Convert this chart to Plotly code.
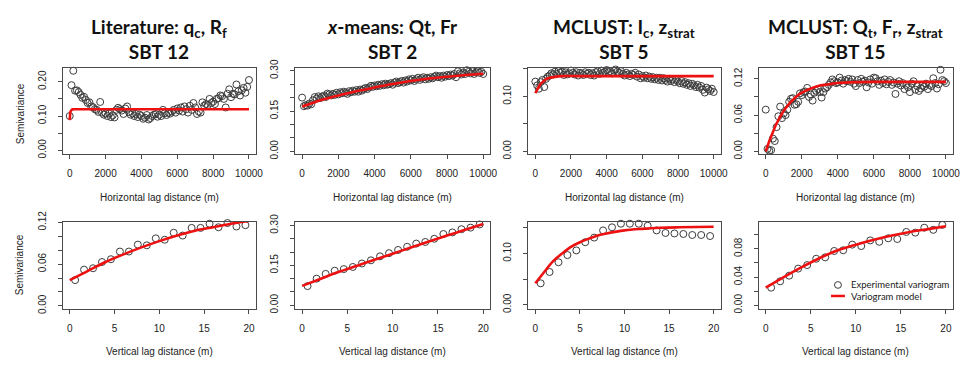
import plotly.graph_objects as go

W, H = 978, 366

# ---------------- data ----------------
H_LAG = [0, 100, 200, 300, 400, 500, 600, 700, 800, 900,
         1000, 1100, 1200, 1300, 1400, 1500, 1600, 1700, 1800, 1900,
         2000, 2100, 2200, 2300, 2400, 2500, 2600, 2700, 2800, 2900,
         3000, 3100, 3200, 3300, 3400, 3500, 3600, 3700, 3800, 3900,
         4000, 4100, 4200, 4300, 4400, 4500, 4600, 4700, 4800, 4900,
         5000, 5100, 5200, 5300, 5400, 5500, 5600, 5700, 5800, 5900,
         6000, 6100, 6200, 6300, 6400, 6500, 6600, 6700, 6800, 6900,
         7000, 7100, 7200, 7300, 7400, 7500, 7600, 7700, 7800, 7900,
         8000, 8100, 8200, 8300, 8400, 8500, 8600, 8700, 8800, 8900,
         9000, 9100, 9200, 9300, 9400, 9500, 9600, 9700, 9800, 9900, 10000]

V_LAG = [0.6, 1.6, 2.6, 3.6, 4.6, 5.6, 6.6, 7.6, 8.6, 9.6,
         10.6, 11.6, 12.6, 13.6, 14.6, 15.6, 16.6, 17.6, 18.6, 19.6]

# Literature: qc, Rf  (SBT 12)
LIT_H = [0.100, 0.190, 0.232, 0.174, 0.175, 0.170, 0.162, 0.153, 0.156, 0.147,
         0.138, 0.140, 0.128, 0.126, 0.120, 0.118, 0.112, 0.141, 0.110, 0.104,
         0.108, 0.100, 0.107, 0.097, 0.102, 0.096, 0.118, 0.124, 0.120, 0.116,
         0.106, 0.122, 0.128, 0.112, 0.104, 0.108, 0.100, 0.106, 0.097, 0.104,
         0.100, 0.092, 0.095, 0.103, 0.090, 0.094, 0.100, 0.104, 0.106, 0.098,
         0.104, 0.100, 0.118, 0.108, 0.103, 0.110, 0.107, 0.113, 0.118, 0.110,
         0.122, 0.116, 0.125, 0.113, 0.128, 0.120, 0.110, 0.130, 0.118, 0.138,
         0.125, 0.106, 0.113, 0.110, 0.140, 0.130, 0.135, 0.132, 0.150, 0.138,
         0.142, 0.135, 0.150, 0.152, 0.160, 0.158, 0.150, 0.125, 0.165, 0.178,
         0.155, 0.165, 0.163, 0.192, 0.172, 0.160, 0.175, 0.182, 0.168, 0.185, 0.205]
LIT_H_MODEL_X = [0, 1, 30, 60, 100, 150, 250, 500, 10000]
LIT_H_MODEL_Y = [0.088, 0.100, 0.110, 0.115, 0.118, 0.1195, 0.120, 0.120, 0.120]
LIT_V = [0.037, 0.052, 0.054, 0.063, 0.067, 0.078, 0.078, 0.088, 0.087, 0.097,
         0.095, 0.105, 0.101, 0.112, 0.112, 0.118, 0.113, 0.119, 0.114, 0.116]
LIT_V_MODEL_X = [0, 2, 4, 6, 8, 10, 12, 14, 16, 18, 20]
LIT_V_MODEL_Y = [0.037, 0.050, 0.063, 0.074, 0.084, 0.093, 0.101, 0.108, 0.113, 0.118, 0.122]

# x-means: Qt, Fr  (SBT 2)
XM_H = [0.200, 0.168, 0.172, 0.170, 0.178, 0.175, 0.190, 0.202, 0.196, 0.205,
        0.198, 0.204, 0.207, 0.202, 0.215, 0.212, 0.208, 0.214, 0.210, 0.218,
        0.212, 0.220, 0.216, 0.222, 0.218, 0.214, 0.224, 0.220, 0.226, 0.222,
        0.228, 0.222, 0.230, 0.226, 0.232, 0.236, 0.232, 0.238, 0.244, 0.240,
        0.245, 0.242, 0.248, 0.244, 0.250, 0.246, 0.252, 0.248, 0.250, 0.254,
        0.248, 0.256, 0.260, 0.254, 0.258, 0.262, 0.256, 0.264, 0.260, 0.268,
        0.264, 0.270, 0.262, 0.268, 0.274, 0.266, 0.272, 0.276, 0.268, 0.274,
        0.270, 0.276, 0.272, 0.278, 0.282, 0.276, 0.280, 0.274, 0.282, 0.278,
        0.284, 0.280, 0.286, 0.282, 0.288, 0.276, 0.298, 0.290, 0.286, 0.294,
        0.288, 0.302, 0.296, 0.290, 0.298, 0.288, 0.294, 0.298, 0.292, 0.296, 0.288]
XM_H_MODEL_X = [0, 500, 1000, 2000, 3000, 4000, 5000, 6000, 7000, 8000, 9000, 10000]
XM_H_MODEL_Y = [0.167, 0.178, 0.190, 0.208, 0.224, 0.238, 0.251, 0.262, 0.271, 0.278, 0.284, 0.289]
XM_V = [0.072, 0.100, 0.118, 0.130, 0.136, 0.144, 0.157, 0.169, 0.184, 0.196,
        0.208, 0.220, 0.232, 0.238, 0.250, 0.268, 0.274, 0.286, 0.292, 0.304]
XM_V_MODEL_X = [0, 2, 4, 6, 8, 10, 12, 14, 16, 18, 20]
XM_V_MODEL_Y = [0.073, 0.099, 0.125, 0.148, 0.171, 0.194, 0.217, 0.240, 0.262, 0.284, 0.306]

# MCLUST: Ic, zstrat  (SBT 5)
MC5_H = [0.127, 0.120, 0.114, 0.126, 0.130, 0.117, 0.132, 0.136, 0.138, 0.142,
         0.140, 0.145, 0.141, 0.146, 0.143, 0.145, 0.139, 0.144, 0.140, 0.142,
         0.147, 0.143, 0.140, 0.144, 0.138, 0.143, 0.141, 0.139, 0.144, 0.141,
         0.143, 0.139, 0.142, 0.138, 0.144, 0.146, 0.141, 0.147, 0.143, 0.145,
         0.148, 0.144, 0.146, 0.142, 0.147, 0.149, 0.145, 0.143, 0.146, 0.141,
         0.138, 0.143, 0.140, 0.137, 0.141, 0.139, 0.143, 0.136, 0.140, 0.133,
         0.137, 0.134, 0.138, 0.133, 0.136, 0.132, 0.135, 0.131, 0.134, 0.130,
         0.134, 0.129, 0.133, 0.130, 0.127, 0.132, 0.128, 0.131, 0.126, 0.130,
         0.127, 0.124, 0.128, 0.123, 0.126, 0.121, 0.124, 0.119, 0.123, 0.120,
         0.117, 0.121, 0.116, 0.119, 0.112, 0.107, 0.116, 0.113, 0.110, 0.114, 0.108]
MC5_H_MODEL_X = [0, 100, 200, 300, 400, 500, 700, 1000, 1500, 2500, 10000]
MC5_H_MODEL_Y = [0.106, 0.112, 0.118, 0.123, 0.126, 0.129, 0.133, 0.135, 0.137, 0.137, 0.137]
MC5_V = [0.042, 0.064, 0.083, 0.097, 0.106, 0.122, 0.131, 0.145, 0.151, 0.158,
         0.158, 0.158, 0.154, 0.145, 0.140, 0.139, 0.138, 0.136, 0.136, 0.134]
MC5_V_MODEL_X = [0, 1, 2, 3, 4, 5, 6, 7, 8, 10, 12, 14, 16, 20]
MC5_V_MODEL_Y = [0.042, 0.064, 0.085, 0.100, 0.113, 0.122, 0.129, 0.135, 0.139, 0.145, 0.148, 0.150, 0.151, 0.152]

# MCLUST: Qt, Fr, zstrat  (SBT 15)
MC15_H = [0.069, 0.004, 0.001, 0.002, 0.021, 0.017, 0.040, 0.058, 0.074, 0.055,
          0.063, 0.060, 0.069, 0.082, 0.087, 0.088, 0.077, 0.078, 0.082, 0.096,
          0.093, 0.098, 0.099, 0.105, 0.090, 0.094, 0.084, 0.097, 0.100, 0.103,
          0.098, 0.089, 0.098, 0.104, 0.106, 0.110, 0.114, 0.119, 0.116, 0.113,
          0.114, 0.122, 0.117, 0.112, 0.118, 0.116, 0.120, 0.115, 0.119, 0.112,
          0.108, 0.118, 0.113, 0.120, 0.115, 0.117, 0.106, 0.114, 0.119, 0.112,
          0.122, 0.121, 0.116, 0.110, 0.117, 0.113, 0.119, 0.111, 0.115, 0.118,
          0.110, 0.114, 0.095, 0.112, 0.116, 0.109, 0.113, 0.103, 0.110, 0.106,
          0.098, 0.112, 0.116, 0.102, 0.108, 0.100, 0.104, 0.109, 0.107, 0.112,
          0.103, 0.110, 0.108, 0.121, 0.113, 0.104, 0.111, 0.135, 0.118, 0.116, 0.113]
MC15_H_MODEL_X = [0, 200, 400, 600, 800, 1000, 1250, 1500, 1750, 2000, 2500, 3000, 3500, 4000, 5000, 6000, 10000]
MC15_H_MODEL_Y = [0.000, 0.017, 0.032, 0.046, 0.057, 0.067, 0.077, 0.085, 0.092, 0.097, 0.104, 0.109, 0.111, 0.113, 0.1145, 0.115, 0.115]
MC15_V = [0.025, 0.034, 0.042, 0.052, 0.057, 0.066, 0.068, 0.077, 0.078, 0.086,
          0.084, 0.092, 0.090, 0.095, 0.094, 0.104, 0.103, 0.110, 0.107, 0.114]
MC15_V_MODEL_X = [0, 2, 4, 6, 8, 10, 12, 14, 16, 18, 20]
MC15_V_MODEL_Y = [0.025, 0.040, 0.054, 0.067, 0.078, 0.086, 0.093, 0.099, 0.104, 0.108, 0.112]

TITLES = ["<b>Literature: q<sub>c</sub>, R<sub>f</sub><br>SBT 12</b>",
          "<b><i>x</i>-means: Qt, Fr<br>SBT 2</b>",
          "<b>MCLUST: I<sub>c</sub>, z<sub>strat</sub><br>SBT 5</b>",
          "<b>MCLUST: Q<sub>t</sub>, F<sub>r</sub>, z<sub>strat</sub><br>SBT 15</b>"]

H_TICKS = [0, 2000, 4000, 6000, 8000, 10000]
H_TICKTEXT = ["0", "2000", "4000", "6000", "8000", "10000"]
V_TICKS = [0, 5, 10, 15, 20]
V_TICKTEXT = ["0", "5", "10", "15", "20"]

# (labelled ticks, labels, unlabelled ticks)
Y_TICKS_TOP = [
    ([0, 0.10, 0.20], ["0.00", "0.10", "0.20"], [0.05, 0.15]),
    ([0, 0.15, 0.30], ["0.00", "0.15", "0.30"], [0.05, 0.10, 0.20, 0.25]),
    ([0, 0.10], ["0.00", "0.10"], [0.05, 0.15]),
    ([0, 0.06, 0.12], ["0.00", "0.06", "0.12"], [0.03, 0.09]),
]
Y_TICKS_BOT = [
    ([0, 0.06, 0.12], ["0.00", "0.06", "0.12"], [0.02, 0.04, 0.08, 0.10]),
    ([0, 0.15, 0.30], ["0.00", "0.15", "0.30"], [0.05, 0.10, 0.20, 0.25]),
    ([0, 0.10], ["0.00", "0.10"], [0.05, 0.15]),
    ([0, 0.04, 0.08], ["0.00", "0.04", "0.08"], [0.02, 0.06, 0.10]),
]

# ---------------- layout geometry (pixels) ----------------
COL_BOX = [(63, 258), (297, 494), (532, 726), (764, 960)]
TOP_BOX = (59.5, 149.5)
BOT_BOX = (220.5, 311.5)
Y_RANGE_TOP = [[-0.0106, 0.2404], [-0.010, 0.3107], [-0.0048, 0.1519], [-0.0044, 0.1381]]
Y_RANGE_BOT = [[-0.0044, 0.1207], [-0.0137, 0.3137], [-0.0078, 0.1616], [-0.0051, 0.1183]]
H_RANGE = [-400, 10400]
V_RANGE = [-0.8, 20.8]

top_series = [(LIT_H, LIT_H_MODEL_X, LIT_H_MODEL_Y), (XM_H, XM_H_MODEL_X, XM_H_MODEL_Y),
              (MC5_H, MC5_H_MODEL_X, MC5_H_MODEL_Y), (MC15_H, MC15_H_MODEL_X, MC15_H_MODEL_Y)]
bot_series = [(LIT_V, LIT_V_MODEL_X, LIT_V_MODEL_Y), (XM_V, XM_V_MODEL_X, XM_V_MODEL_Y),
              (MC5_V, MC5_V_MODEL_X, MC5_V_MODEL_Y), (MC15_V, MC15_V_MODEL_X, MC15_V_MODEL_Y)]

PT_COLOR = "#3c3c3c"
AX_COLOR = "#4a4a4a"
RED = "#ee1111"
SANS = "Liberation Sans, Arial, sans-serif"
TICK_FONT = dict(family=SANS, size=10, color="#222")


def px_x(p):
    return p / W


def px_y(p):
    return 1 - p / H


fig = go.Figure()
layout = dict(width=W, height=H, margin=dict(l=0, r=0, t=0, b=0),
              paper_bgcolor="white", plot_bgcolor="white", showlegend=False,
              annotations=[], shapes=[])

axis_common = dict(showline=True, linecolor=AX_COLOR, linewidth=1, mirror=True,
                   ticks="outside", ticklen=4, tickwidth=1, tickcolor=AX_COLOR,
                   showgrid=False, zeroline=False, tickfont=TICK_FONT)

idx = 0
for row in range(2):
    series = top_series if row == 0 else bot_series
    box = TOP_BOX if row == 0 else BOT_BOX
    xs = H_LAG if row == 0 else V_LAG
    for col in range(4):
        idx += 1
        sfx = "" if idx == 1 else str(idx)
        yvals, mx, my = series[col]
        fig.add_trace(go.Scatter(x=xs, y=yvals, mode="markers", xaxis="x" + sfx, yaxis="y" + sfx,
                                 marker=dict(symbol="circle-open", size=7, color=PT_COLOR,
                                             line=dict(width=1, color=PT_COLOR)),
                                 cliponaxis=False))
        shape = "linear" if (row == 0 and col == 0) else "spline"
        fig.add_trace(go.Scatter(x=mx, y=my, mode="lines", xaxis="x" + sfx, yaxis="y" + sfx,
                                 line=dict(color=RED, width=2.6, shape=shape)))
        l, r = COL_BOX[col]
        t, b = box
        if row == 0:
            yt, ytt, ymin = Y_TICKS_TOP[col]
            yr = Y_RANGE_TOP[col]
            xt, xtt, xr = H_TICKS, H_TICKTEXT, H_RANGE
        else:
            yt, ytt, ymin = Y_TICKS_BOT[col]
            yr = Y_RANGE_BOT[col]
            xt, xtt, xr = V_TICKS, V_TICKTEXT, V_RANGE
        layout["xaxis" + sfx] = dict(axis_common, domain=[px_x(l), px_x(r)], range=xr,
                                     tickvals=xt, ticktext=xtt, anchor="y" + sfx,
                                     ticklabelstandoff=6)
        layout["yaxis" + sfx] = dict(axis_common, domain=[px_y(b), px_y(t)], range=yr,
                                     tickvals=yt, ticktext=ytt, anchor="x" + sfx,
                                     tickangle=-90, ticklabelstandoff=8,
                                     minor=dict(tickvals=ymin, ticks="outside", ticklen=4,
                                                tickwidth=1, tickcolor=AX_COLOR, showgrid=False))
        # axis titles
        label = "Horizontal lag distance (m)" if row == 0 else "Vertical lag distance (m)"
        ly = 195.5 if row == 0 else 356.5
        layout["annotations"].append(dict(text=label, x=px_x((l + r) / 2), y=px_y(ly),
                                          xref="paper", yref="paper", showarrow=False,
                                          xanchor="center", yanchor="middle",
                                          font=dict(family=SANS, size=10, color="#222")))

# Semivariance y titles
for cy in (107, 265):
    layout["annotations"].append(dict(text="Semivariance", x=px_x(20), y=px_y(cy),
                                      xref="paper", yref="paper", showarrow=False,
                                      textangle=-90, xanchor="center", yanchor="middle",
                                      font=dict(family=SANS, size=10, color="#222")))

# Titles
for col, ttl in enumerate(TITLES):
    l, r = COL_BOX[col]
    layout["annotations"].append(dict(text=ttl, x=px_x((l + r) / 2), y=px_y(29),
                                      xref="paper", yref="paper", showarrow=False,
                                      xanchor="center", yanchor="middle",
                                      font=dict(family="Lato, sans-serif", size=19, color="#111")))

# Legend (in last panel)
LEG_FONT = dict(family="Lato, sans-serif", size=9.5, color="#222")
layout["shapes"].append(dict(type="circle", xref="paper", yref="paper",
                             x0=px_x(840.5), x1=px_x(847.5), y0=px_y(290), y1=px_y(283),
                             line=dict(color=PT_COLOR, width=1)))
layout["shapes"].append(dict(type="line", xref="paper", yref="paper",
                             x0=px_x(837), x1=px_x(851), y0=px_y(298), y1=px_y(298),
                             line=dict(color=RED, width=2.5)))
layout["annotations"].append(dict(text="Experimental variogram", x=px_x(855), y=px_y(286.5),
                                  xref="paper", yref="paper", showarrow=False,
                                  xanchor="left", yanchor="middle", font=LEG_FONT))
layout["annotations"].append(dict(text="Variogram model", x=px_x(855), y=px_y(298.5),
                                  xref="paper", yref="paper", showarrow=False,
                                  xanchor="left", yanchor="middle", font=LEG_FONT))

fig.update_layout(**layout)
fig.write_html("out.html")
